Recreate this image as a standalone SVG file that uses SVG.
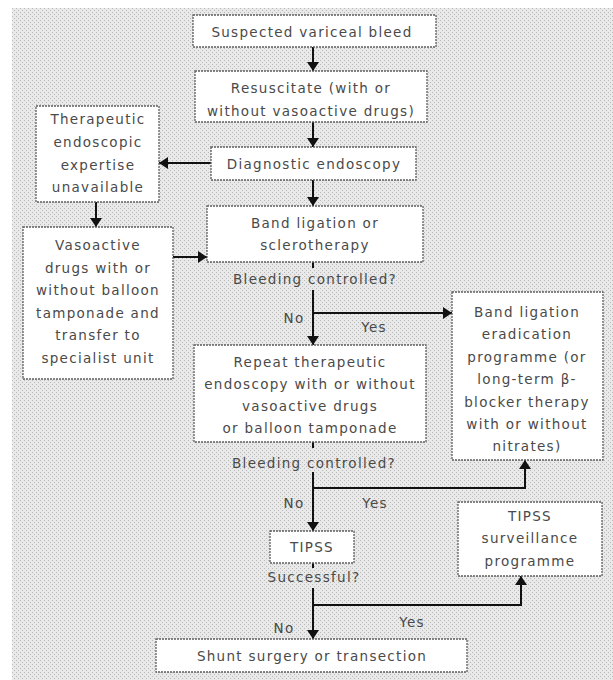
<svg xmlns="http://www.w3.org/2000/svg" width="613" height="680" viewBox="0 0 613 680">
<defs>
<pattern id="dots" width="4" height="4" patternUnits="userSpaceOnUse">
<rect width="4" height="4" fill="#e9e9e9"/>
<rect x="0" y="0" width="1" height="1" fill="#b9b9b9"/>
<rect x="2" y="2" width="1" height="1" fill="#b9b9b9"/>
</pattern>
<marker id="ah" viewBox="0 0 9 12" markerWidth="9" markerHeight="12" refX="9" refY="6" orient="auto" markerUnits="userSpaceOnUse">
<path d="M0,0 L9,6 L0,12 z" fill="#111"/>
</marker>
</defs>
<style>
.box{fill:#fff;stroke:#5e5e5e;stroke-width:1.3;stroke-dasharray:2 1}
.t{font-family:"DejaVu Sans",sans-serif;font-size:13.5px;letter-spacing:1.3px;fill:#4a4a4a;text-anchor:middle;dominant-baseline:central}
.c{fill:none;stroke:#111;stroke-width:2}
.a{marker-end:url(#ah)}
</style>
<rect x="0" y="0" width="613" height="680" fill="#fff"/>
<rect x="12" y="8" width="601" height="672" fill="url(#dots)"/>

<g id="connectors">
<line class="c a" x1="313" y1="47" x2="313" y2="71"/>
<line class="c a" x1="313" y1="122" x2="313" y2="147"/>
<line class="c a" x1="211" y1="163" x2="159" y2="163"/>
<line class="c a" x1="313" y1="180" x2="313" y2="206"/>
<line class="c a" x1="96" y1="202" x2="96" y2="227"/>
<line class="c a" x1="173" y1="257" x2="207" y2="257"/>
<line class="c" x1="313" y1="262" x2="313" y2="268"/>
<line class="c a" x1="313" y1="290" x2="313" y2="345"/>
<line class="c a" x1="313" y1="313" x2="452" y2="313"/>
<line class="c" x1="313" y1="442" x2="313" y2="448"/>
<line class="c a" x1="313" y1="472" x2="313" y2="531"/>
<polyline class="c a" points="313,488 525,488 525,460"/>
<line class="c" x1="313" y1="563" x2="313" y2="568"/>
<line class="c a" x1="313" y1="588" x2="313" y2="639"/>
<polyline class="c a" points="313,605 521,605 521,576"/>
<text class="t" x="315" y="279">Bleeding controlled?</text>
<text class="t" x="294" y="318">No</text>
<text class="t" x="374" y="327">Yes</text>
<text class="t" x="314" y="463">Bleeding controlled?</text>
<text class="t" x="294" y="503">No</text>
<text class="t" x="375" y="503">Yes</text>
<text class="t" x="314" y="577">Successful?</text>
<text class="t" x="284" y="628">No</text>
<text class="t" x="412" y="622">Yes</text>
</g>

<g id="suspected">
<rect class="box" x="193" y="15" width="243" height="32"/>
<text class="t" x="312" y="32">Suspected variceal bleed</text>
</g>
<g id="resuscitate">
<rect class="box" x="195" y="71" width="232" height="51"/>
<text class="t" x="311" y="88">Resuscitate (with or</text>
<text class="t" x="311" y="111">without vasoactive drugs)</text>
</g>
<g id="diagnostic">
<rect class="box" x="211" y="147" width="205" height="33"/>
<text class="t" x="314" y="164">Diagnostic endoscopy</text>
</g>
<g id="expertise">
<rect class="box" x="36" y="106" width="123" height="96"/>
<text class="t" x="98" y="119">Therapeutic</text>
<text class="t" x="98" y="142">endoscopic</text>
<text class="t" x="98" y="165">expertise</text>
<text class="t" x="98" y="187">unavailable</text>
</g>
<g id="vasoactive">
<rect class="box" x="23" y="227" width="150" height="152"/>
<text class="t" x="98" y="245">Vasoactive</text>
<text class="t" x="98" y="268">drugs with or</text>
<text class="t" x="98" y="290">without balloon</text>
<text class="t" x="98" y="313">tamponade and</text>
<text class="t" x="98" y="335">transfer to</text>
<text class="t" x="98" y="358">specialist unit</text>
</g>
<g id="band">
<rect class="box" x="207" y="206" width="216" height="56"/>
<text class="t" x="315" y="223">Band ligation or</text>
<text class="t" x="315" y="245">sclerotherapy</text>
</g>
<g id="repeat">
<rect class="box" x="194" y="345" width="232" height="97"/>
<text class="t" x="310" y="362">Repeat therapeutic</text>
<text class="t" x="310" y="384">endoscopy with or without</text>
<text class="t" x="310" y="406">vasoactive drugs</text>
<text class="t" x="310" y="428">or balloon tamponade</text>
</g>
<g id="eradication">
<rect class="box" x="452" y="292" width="151" height="168"/>
<text class="t" x="527" y="312">Band ligation</text>
<text class="t" x="527" y="334">eradication</text>
<text class="t" x="527" y="357">programme (or</text>
<text class="t" x="527" y="379">long-term β-</text>
<text class="t" x="527" y="402">blocker therapy</text>
<text class="t" x="527" y="424">with or without</text>
<text class="t" x="527" y="446">nitrates)</text>
</g>
<g id="tipss">
<rect class="box" x="270" y="531" width="84" height="32"/>
<text class="t" x="312" y="547">TIPSS</text>
</g>
<g id="surveillance">
<rect class="box" x="458" y="502" width="144" height="74"/>
<text class="t" x="530" y="516">TIPSS</text>
<text class="t" x="530" y="538">surveillance</text>
<text class="t" x="530" y="561">programme</text>
</g>
<g id="shunt">
<rect class="box" x="156" y="639" width="311" height="33"/>
<text class="t" x="312" y="656">Shunt surgery or transection</text>
</g>
</svg>
